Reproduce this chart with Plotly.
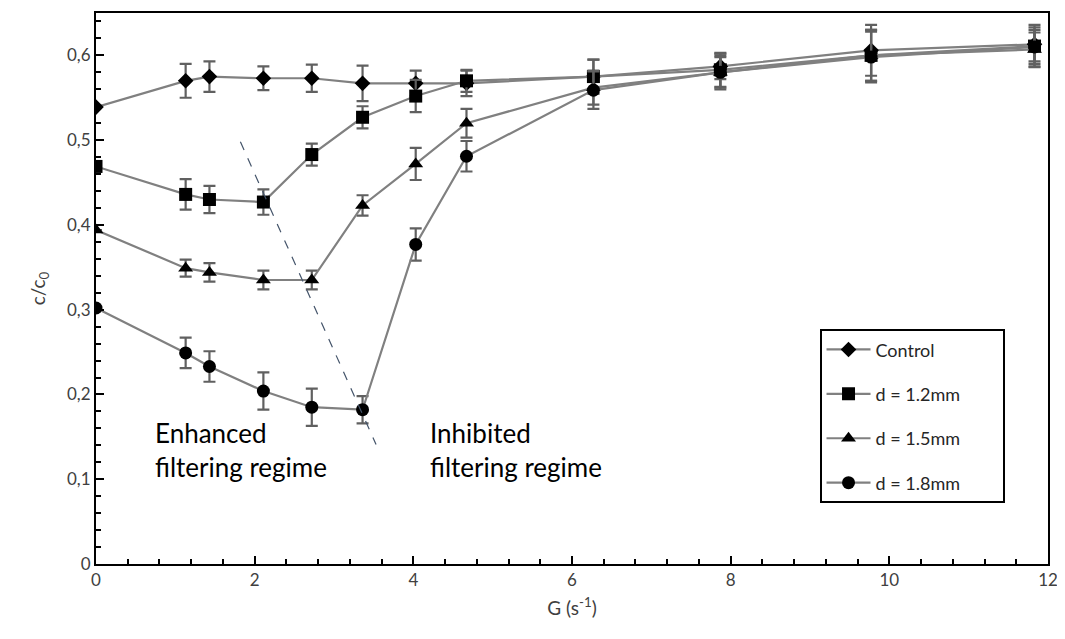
import plotly.graph_objects as go

G = [0, 1.13, 1.43, 2.11, 2.72, 3.36, 4.03, 4.67, 6.27, 7.87, 9.77, 11.83]

control = [0.539, 0.570, 0.575, 0.573, 0.573, 0.567, 0.567, 0.567, 0.575, 0.587, 0.606, 0.613]
control_err = [None, 0.020, 0.018, 0.014, 0.016, 0.021, 0.015, 0.015, 0.020, 0.015, 0.030, 0.020]

d12 = [0.469, 0.436, 0.430, 0.427, 0.483, 0.527, 0.552, 0.570, 0.575, 0.583, 0.600, 0.611]
d12_err = [None, 0.018, 0.016, 0.015, 0.013, 0.013, 0.019, 0.013, 0.020, 0.020, 0.030, 0.025]

d15 = [0.394, 0.349, 0.344, 0.335, 0.335, 0.423, 0.472, 0.520, 0.562, 0.580, 0.600, 0.607]
d15_err = [None, 0.010, 0.011, 0.011, 0.011, 0.012, 0.019, 0.017, 0.020, 0.020, 0.030, 0.020]

d18 = [0.302, 0.249, 0.233, 0.204, 0.185, 0.182, 0.377, 0.481, 0.559, 0.580, 0.598, 0.610]
d18_err = [None, 0.018, 0.018, 0.022, 0.022, 0.016, 0.019, 0.018, 0.022, 0.018, 0.030, 0.020]

names = ["Control", "d = 1.2mm", "d = 1.5mm", "d = 1.8mm"]
symbols = ["diamond", "square", "triangle-up", "circle"]
sizes = [12, 13, 13, 13]
series = [(control, control_err), (d12, d12_err), (d15, d15_err), (d18, d18_err)]

y_ticks = [0, 0.1, 0.2, 0.3, 0.4, 0.5, 0.6]
y_ticktext = ["0", "0,1", "0,2", "0,3", "0,4", "0,5", "0,6"]
x_ticks = [0, 2, 4, 6, 8, 10, 12]

FONT = "Lato, Calibri, Carlito, sans-serif"
PAD = "\u00a0" * 8  # widen the legend box to match the reference

fig = go.Figure()
for i, (name, sym, sz, (ys, es)) in enumerate(zip(names, symbols, sizes, series)):
    fig.add_trace(go.Scatter(
        x=G, y=ys, mode="lines+markers", name=name + PAD,
        legendgroup=name,
        line=dict(color="#808080", width=2.2),
        marker=dict(symbol=sym, size=sz, color="black", line=dict(width=0)),
        error_y=dict(type="data", array=es, visible=True, color="#606060",
                     thickness=2.2, width=6),
    ))

fig.add_shape(type="line", x0=1.82, y0=0.498, x1=3.53, y1=0.141,
              xref="x", yref="y", line=dict(color="#44546A", width=1.2, dash="dash"))

fig.add_annotation(x=0.72, y=0.134, xref="x", yref="y", xanchor="left", yanchor="middle",
                   text="Enhanced<br>filtering regime", showarrow=False, align="left",
                   font=dict(family=FONT, size=26, color="black"))
fig.add_annotation(x=4.19, y=0.134, xref="x", yref="y", xanchor="left", yanchor="middle",
                   text="Inhibited<br>filtering regime", showarrow=False, align="left",
                   font=dict(family=FONT, size=26, color="black"))

axis_common = dict(showline=True, linecolor="black", linewidth=2, mirror=True,
                   ticks="inside", tickcolor="black", tickwidth=2, ticklen=8,
                   showgrid=False, zeroline=False,
                   tickfont=dict(family=FONT, size=17, color="#404040"))

fig.update_xaxes(range=[0, 12], tickvals=x_ticks,
                 minor=dict(dtick=0.4, ticks="inside", ticklen=5, tickwidth=2, tickcolor="black", showgrid=False),
                 title=dict(text="G (s<sup>-1</sup>)", font=dict(family=FONT, size=19, color="#404040"), standoff=12),
                 **axis_common)
fig.update_yaxes(range=[0, 0.65], tickvals=y_ticks, ticktext=y_ticktext,
                 minor=dict(dtick=0.02, ticks="inside", ticklen=5, tickwidth=2, tickcolor="black", showgrid=False),
                 title=dict(text="c/c<sub>0</sub>", font=dict(family=FONT, size=19, color="#404040"), standoff=16),
                 **axis_common)

fig.update_layout(
    width=1057, height=631,
    margin=dict(l=88, r=17, t=5, b=75, autoexpand=False),
    plot_bgcolor="white", paper_bgcolor="white",
    font=dict(family=FONT, color="#404040"),
    legend=dict(x=0.76, y=0.426, xanchor="left", yanchor="top",
                bordercolor="black", borderwidth=2, bgcolor="white",
                font=dict(family=FONT, size=18, color="#262626"),
                tracegroupgap=18, itemwidth=44),
    showlegend=True,
)

fig.write_html("out.html")
